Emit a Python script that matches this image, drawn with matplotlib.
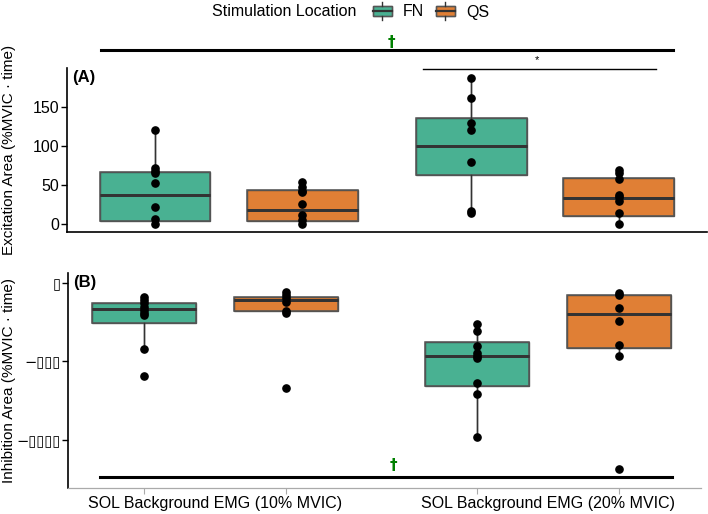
import matplotlib
matplotlib.use("Agg")
import matplotlib.pyplot as plt
from matplotlib.legend_handler import HandlerBase
from matplotlib.patches import Rectangle
from matplotlib.lines import Line2D

plt.rcParams['font.family'] = ['Liberation Sans', 'DejaVu Sans']

# ---------------- data ----------------
groups = ["SOL Background EMG (10% MVIC)", "SOL Background EMG (20% MVIC)"]
locations = ["FN", "QS"]
colors = {"FN": "#1B9E77", "QS": "#D95F02"}

# Panel A: excitation area, points per box (FN10, QS10, FN20, QS20)
exc_fn_10 = [120.9, 71.9, 68.8, 66.2, 53.3, 22.6, 6.4, 0.0]
exc_qs_10 = [54.2, 48.2, 43.1, 41.4, 26.0, 11.5, 5.5, 0.0]
exc_fn_20 = [188.0, 161.5, 129.5, 120.9, 79.5, 17.4, 14.1]
exc_qs_20 = [69.6, 66.2, 57.7, 37.6, 34.6, 30.3, 14.9, 0.0]
# box statistics (FN10, QS10, FN20, QS20)
exc_q1 = [4.6, 3.8, 63.6, 11.0]
exc_med = [38.0, 18.7, 100.0, 33.7]
exc_q3 = [67.4, 44.0, 136.7, 59.0]
exc_lo = [0.0, 0.0, 14.1, 0.0]
exc_hi = [120.9, 54.2, 188.0, 69.6]

# Panel B: inhibition area
inh_fn_10 = [-92.6, -109.8, -130.7, -152.3, -173.2, -194.3, -206.9, -422.6, -590.1]
inh_qs_10 = [-57.1, -78.0, -99.0, -120.6, -177.7, -194.3, -670.0]
inh_fn_20 = [-262.0, -308.7, -401.6, -448.0, -465.0, -480.0, -634.5, -708.0, -977.0]
inh_qs_20 = [-63.5, -76.0, -162.8, -241.0, -397.5, -467.3, -1180.0]
inh_q1 = [-257.6, -181.5, -653.4, -414.3]
inh_med = [-166.9, -109.8, -467.3, -200.5]
inh_q3 = [-126.9, -92.6, -378.4, -76.0]
inh_lo = [-422.6, -194.3, -977.0, -467.3]
inh_hi = [-92.6, -57.1, -262.0, -63.5]

inh_ticks = [0, -500, -1000]
inh_ticklabels = ["\u25AF", "\u2212\u25AF\u25AF\u25AF", "\u2212\u25AF\u25AF\u25AF\u25AF"]

# ---------------- figure ----------------
W, H = 708, 514
fig = plt.figure(figsize=(W / 100, H / 100), dpi=100)

def fx(px):
    return px / W

def fy(py):
    return 1 - py / H

axA = fig.add_axes([fx(67), fy(232), fx(707) - fx(67), fy(68) - fy(232)])
axB = fig.add_axes([fx(68), fy(488), fx(701) - fx(68), fy(273) - fy(488)])

FS = 11.5
EDGE = "#333333"


def draw_panel(ax, pts, q1, med, q3, lo, hi, dodge, width):
    keys = [(0, "FN"), (0, "QS"), (1, "FN"), (1, "QS")]
    for i, (g, loc) in enumerate(keys):
        x = g + (-dodge if loc == "FN" else dodge)
        stats = [dict(q1=q1[i], med=med[i], q3=q3[i], whislo=lo[i], whishi=hi[i],
                      fliers=[])]
        ax.bxp(stats, positions=[x], widths=width, patch_artist=True,
               showfliers=False, showcaps=False,
               boxprops=dict(facecolor=colors[loc], alpha=0.8, edgecolor=EDGE, linewidth=1.0),
               medianprops=dict(color=EDGE, linewidth=2.0),
               whiskerprops=dict(color=EDGE, linewidth=1.0),
               manage_ticks=False)
        ax.bxp(stats, positions=[x], widths=width, patch_artist=True,
               showfliers=False, showcaps=False,
               boxprops=dict(facecolor="none", edgecolor="#555555", linewidth=1.1),
               medianprops=dict(color=EDGE, linewidth=2.0),
               whiskerprops=dict(color=EDGE, linewidth=1.0),
               manage_ticks=False)
        ax.plot([x] * len(pts[i]), pts[i], "o", color="black", markersize=5.2, zorder=5,
                clip_on=False)


# Panel A
draw_panel(axA, [exc_fn_10, exc_qs_10, exc_fn_20, exc_qs_20],
           exc_q1, exc_med, exc_q3, exc_lo, exc_hi, dodge=0.233, width=0.35)
axA.set_xlim(-0.512, 1.513)
axA.set_ylim(-9.9, 200.4)
axA.set_yticks([0, 50, 100, 150])
axA.set_xticks([])
for s in ["top", "right"]:
    axA.spines[s].set_visible(False)
axA.spines["left"].set_linewidth(1.2)
axA.spines["bottom"].set_linewidth(1.2)
axA.tick_params(axis="y", labelsize=FS, length=4, width=1, pad=1.5, colors="black")
axA.set_ylabel("Excitation Area (%MVIC · time)", fontsize=11)
axA.yaxis.set_label_coords(-0.080, 0.5)
axA.text(0.008, 0.945, "(A)", transform=axA.transAxes, fontsize=12, fontweight="bold",
         va="center", ha="left")

# significance annotations panel A
axA.plot([-0.406, 1.404], [223.5, 223.5], color="black", lw=2.2, clip_on=False)
axA.text(0.515, 233.5, "\u2020", color="green", fontsize=11, fontweight="bold",
         ha="center", va="center", clip_on=False, family="DejaVu Sans")
axA.plot([0.613, 1.352], [199.1, 199.1], color="black", lw=1.0, clip_on=False)
axA.text(0.974, 210.5, "*", fontsize=8, ha="center", va="center", clip_on=False)

# Panel B
draw_panel(axB, [inh_fn_10, inh_qs_10, inh_fn_20, inh_qs_20],
           inh_q1, inh_med, inh_q3, inh_lo, inh_hi, dodge=0.2127, width=0.312)
axB.set_xlim(-0.440, 1.459)
axB.set_ylim(-1302.7, 61.5)
axB.set_yticks(inh_ticks)
axB.set_yticklabels(inh_ticklabels, family="DejaVu Sans", fontsize=10.5)
axB.set_xticks([0, 1])
axB.set_xticklabels(groups)
axB.set_xticks([-0.2127, 0.2127, 1 - 0.2127, 1 + 0.2127], minor=True)
axB.tick_params(axis="x", which="major", length=0, labelsize=FS, pad=6)
axB.tick_params(axis="x", which="minor", length=4, color="#aaaaaa", width=0.8)
for s in ["top", "right"]:
    axB.spines[s].set_visible(False)
axB.spines["left"].set_linewidth(1.2)
axB.spines["bottom"].set_color("#aaaaaa")
axB.spines["bottom"].set_linewidth(0.9)
axB.tick_params(axis="y", length=4, width=1, pad=1.5)
axB.set_ylabel("Inhibition Area (%MVIC · time)", fontsize=11)
axB.yaxis.set_label_coords(-0.082, 0.5)
axB.text(0.008, 0.958, "(B)", transform=axB.transAxes, fontsize=12, fontweight="bold",
         va="center", ha="left")

axB.plot([-0.344, 1.372], [-1232.9, -1232.9], color="black", lw=2.2, clip_on=False)
axB.text(0.535, -1160, "\u2020", color="green", fontsize=11, fontweight="bold",
         ha="center", va="center", clip_on=False, family="DejaVu Sans")


# ---------------- legend ----------------
class BoxKey(HandlerBase):
    def __init__(self, color):
        super().__init__()
        self.color = color

    def create_artists(self, legend, orig_handle, xdescent, ydescent, width, height,
                       fontsize, trans):
        x0, y0 = -xdescent, -ydescent
        rect = Rectangle((x0, y0 + 0.05 * height), width, 0.9 * height,
                         facecolor=self.color, alpha=0.8, edgecolor="#555555", lw=1.0,
                         transform=trans)
        rect2 = Rectangle((x0, y0 + 0.05 * height), width, 0.9 * height,
                          facecolor="none", edgecolor="#555555", lw=1.0, transform=trans)
        med = Line2D([x0, x0 + width], [y0 + 0.5 * height] * 2, color=EDGE, lw=1.6,
                     transform=trans)
        w1 = Line2D([x0 + width / 2] * 2, [y0 - 0.3 * height, y0 + 0.05 * height],
                    color=EDGE, lw=1.0, transform=trans)
        w2 = Line2D([x0 + width / 2] * 2, [y0 + 0.95 * height, y0 + 1.3 * height],
                    color=EDGE, lw=1.0, transform=trans)
        return [rect, rect2, med, w1, w2]


hFN = Rectangle((0, 0), 1, 1)
hQS = Rectangle((0, 0), 1, 1)
fig.text(fx(212), fy(12), "Stimulation Location", fontsize=FS, va="center", ha="left")
fig.legend([hFN, hQS], locations, handler_map={hFN: BoxKey(colors["FN"]), hQS: BoxKey(colors["QS"])},
           loc="center left", bbox_to_anchor=(fx(372.5), fy(12)), ncol=2, frameon=False,
           fontsize=FS, borderpad=0, borderaxespad=0, handlelength=1.2, handleheight=0.75,
           handletextpad=0.69, columnspacing=0.75)

fig.savefig("out.png", dpi=100)
